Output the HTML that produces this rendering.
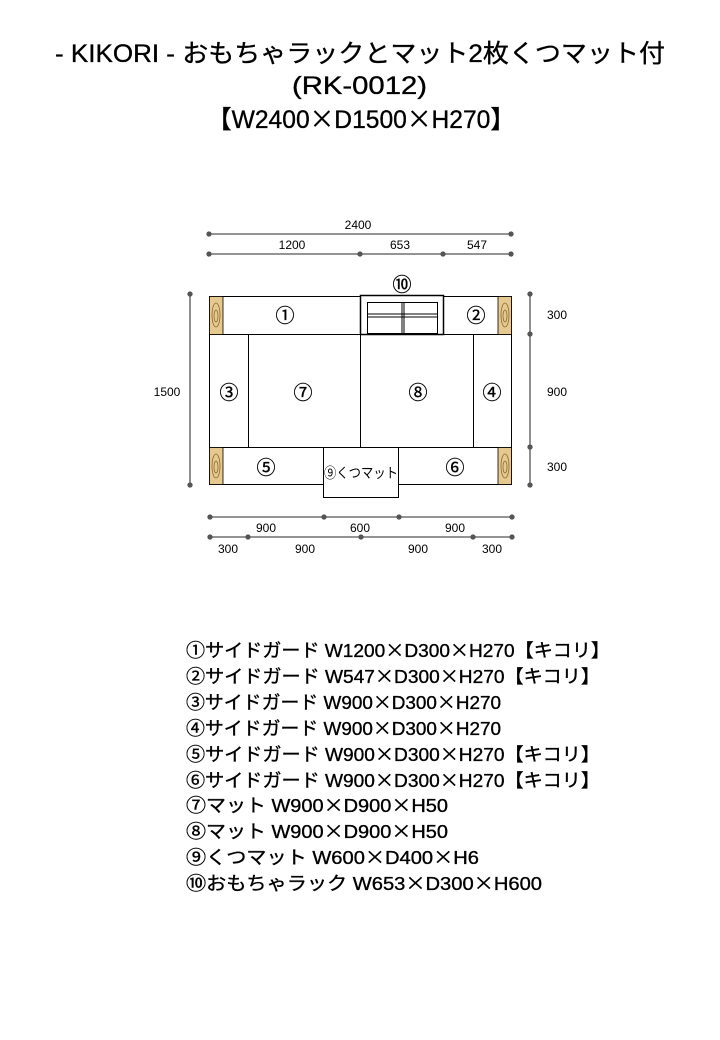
<!DOCTYPE html>
<html><head><meta charset="utf-8"><style>
body{margin:0;background:#fff}
svg{display:block}
text{font-family:"Liberation Sans","Noto Sans CJK JP",sans-serif;fill:#000}
.x{font-family:"Noto Sans CJK JP",sans-serif}
.b{stroke:#000;stroke-width:0.35}
</style></head><body>
<svg width="720" height="1040" viewBox="0 0 720 1040" xmlns="http://www.w3.org/2000/svg">
<rect width="720" height="1040" fill="#fff"/>
<g font-size="25" class="b">
<text x="55" y="62" textLength="610" lengthAdjust="spacingAndGlyphs">-  KIKORI  -  おもちゃラックとマット2枚くつマット付</text>
<text x="292" y="94" textLength="135" lengthAdjust="spacingAndGlyphs">(RK-0012)</text>
<text x="207" y="128" textLength="308" lengthAdjust="spacingAndGlyphs">【W2400<tspan class="x">×</tspan>D1500<tspan class="x">×</tspan>H270】</text>
</g>
<g stroke="#555" stroke-width="1.3" fill="#555" font-size="12">
<line x1="209" y1="234" x2="511" y2="234"/>
<circle cx="209" cy="234" r="2"/><circle cx="511" cy="234" r="2"/>
<line x1="209" y1="254" x2="511" y2="254"/>
<circle cx="209" cy="254" r="2"/><circle cx="360" cy="254" r="2"/><circle cx="443" cy="254" r="2"/><circle cx="511" cy="254" r="2"/>
<line x1="190" y1="294" x2="190" y2="485"/>
<circle cx="190" cy="294" r="2"/><circle cx="190" cy="485" r="2"/>
<line x1="530" y1="294" x2="530" y2="485"/>
<circle cx="530" cy="294" r="2"/><circle cx="530" cy="334" r="2"/><circle cx="530" cy="447" r="2"/><circle cx="530" cy="485" r="2"/>
<line x1="210" y1="517" x2="512" y2="517"/>
<circle cx="210" cy="517" r="2"/><circle cx="324" cy="517" r="2"/><circle cx="399" cy="517" r="2"/><circle cx="512" cy="517" r="2"/>
<line x1="210" y1="537" x2="512" y2="537"/>
<circle cx="210" cy="537" r="2"/><circle cx="248" cy="537" r="2"/><circle cx="361" cy="537" r="2"/><circle cx="473" cy="537" r="2"/><circle cx="512" cy="537" r="2"/>
</g>
<g font-size="12" fill="#444" text-anchor="middle">
<text x="358" y="229">2400</text>
<text x="292" y="249">1200</text>
<text x="400" y="249">653</text>
<text x="477" y="249">547</text>
<text x="167" y="396">1500</text>
<text x="557" y="319">300</text>
<text x="557" y="396">900</text>
<text x="557" y="471">300</text>
<text x="266" y="532">900</text>
<text x="360" y="532">600</text>
<text x="455" y="532">900</text>
<text x="228" y="553">300</text>
<text x="305" y="553">900</text>
<text x="418" y="553">900</text>
<text x="492" y="553">300</text>
</g>
<g stroke="#000" stroke-width="1" fill="#fff">
<rect x="209.5" y="296.5" width="302" height="188"/>
<line x1="209" y1="334.5" x2="512" y2="334.5"/>
<line x1="209" y1="447.5" x2="512" y2="447.5"/>
<line x1="248.5" y1="334" x2="248.5" y2="447"/>
<line x1="360.5" y1="296" x2="360.5" y2="447"/>
<line x1="473.5" y1="334" x2="473.5" y2="447"/>
<rect x="360.5" y="295.5" width="83" height="39" stroke-width="1.5"/>
<rect x="367.5" y="302.5" width="70" height="31"/>
<line x1="402" y1="302" x2="402" y2="333"/><line x1="404" y1="302" x2="404" y2="333"/>
<line x1="367" y1="314" x2="437" y2="314"/><line x1="367" y1="317" x2="437" y2="317"/>
<rect x="323.5" y="447.5" width="75" height="50"/>
</g>
<g fill="#e6c98f" stroke="#000" stroke-width="0.8">
<rect x="209.5" y="296.5" width="13.5" height="38"/>
<rect x="498" y="296.5" width="13.5" height="38"/>
<rect x="209.5" y="447.5" width="13.5" height="37"/>
<rect x="498" y="447.5" width="13.5" height="37"/>
</g>
<g fill="none" stroke="#8a6a30" stroke-width="0.8">
<ellipse cx="216" cy="315" rx="4" ry="12"/><ellipse cx="216" cy="316" rx="2" ry="6"/>
<ellipse cx="505" cy="315" rx="4" ry="12"/><ellipse cx="505" cy="316" rx="2" ry="6"/>
<ellipse cx="216" cy="466" rx="4" ry="12"/><ellipse cx="216" cy="467" rx="2" ry="6"/>
<ellipse cx="505" cy="466" rx="4" ry="12"/><ellipse cx="505" cy="467" rx="2" ry="6"/>
</g>
<g font-size="19" text-anchor="middle" class="b">
<text x="285" y="322">①</text>
<text x="476" y="322">②</text>
<text x="229" y="399">③</text>
<text x="303" y="399">⑦</text>
<text x="418" y="399">⑧</text>
<text x="492" y="399">④</text>
<text x="266" y="474">⑤</text>
<text x="455" y="474">⑥</text>
<text x="402" y="291">⑩</text>
</g>
<text x="324" y="478" font-size="14" textLength="74" lengthAdjust="spacingAndGlyphs">⑨くつマット</text>
<g font-size="18.5" class="b">
<text x="186" y="657" textLength="424" lengthAdjust="spacingAndGlyphs">①サイドガード W1200<tspan class="x">×</tspan>D300<tspan class="x">×</tspan>H270【キコリ】</text>
<text x="186" y="683" textLength="414" lengthAdjust="spacingAndGlyphs">②サイドガード W547<tspan class="x">×</tspan>D300<tspan class="x">×</tspan>H270【キコリ】</text>
<text x="186" y="709" textLength="315" lengthAdjust="spacingAndGlyphs">③サイドガード W900<tspan class="x">×</tspan>D300<tspan class="x">×</tspan>H270</text>
<text x="186" y="735" textLength="315" lengthAdjust="spacingAndGlyphs">④サイドガード W900<tspan class="x">×</tspan>D300<tspan class="x">×</tspan>H270</text>
<text x="186" y="761" textLength="414" lengthAdjust="spacingAndGlyphs">⑤サイドガード W900<tspan class="x">×</tspan>D300<tspan class="x">×</tspan>H270【キコリ】</text>
<text x="186" y="787" textLength="414" lengthAdjust="spacingAndGlyphs">⑥サイドガード W900<tspan class="x">×</tspan>D300<tspan class="x">×</tspan>H270【キコリ】</text>
<text x="186" y="812" textLength="262" lengthAdjust="spacingAndGlyphs">⑦マット W900<tspan class="x">×</tspan>D900<tspan class="x">×</tspan>H50</text>
<text x="186" y="838" textLength="262" lengthAdjust="spacingAndGlyphs">⑧マット W900<tspan class="x">×</tspan>D900<tspan class="x">×</tspan>H50</text>
<text x="186" y="864" textLength="293" lengthAdjust="spacingAndGlyphs">⑨くつマット W600<tspan class="x">×</tspan>D400<tspan class="x">×</tspan>H6</text>
<text x="186" y="890" textLength="356" lengthAdjust="spacingAndGlyphs">⑩おもちゃラック W653<tspan class="x">×</tspan>D300<tspan class="x">×</tspan>H600</text>
</g>
</svg>
</body></html>
